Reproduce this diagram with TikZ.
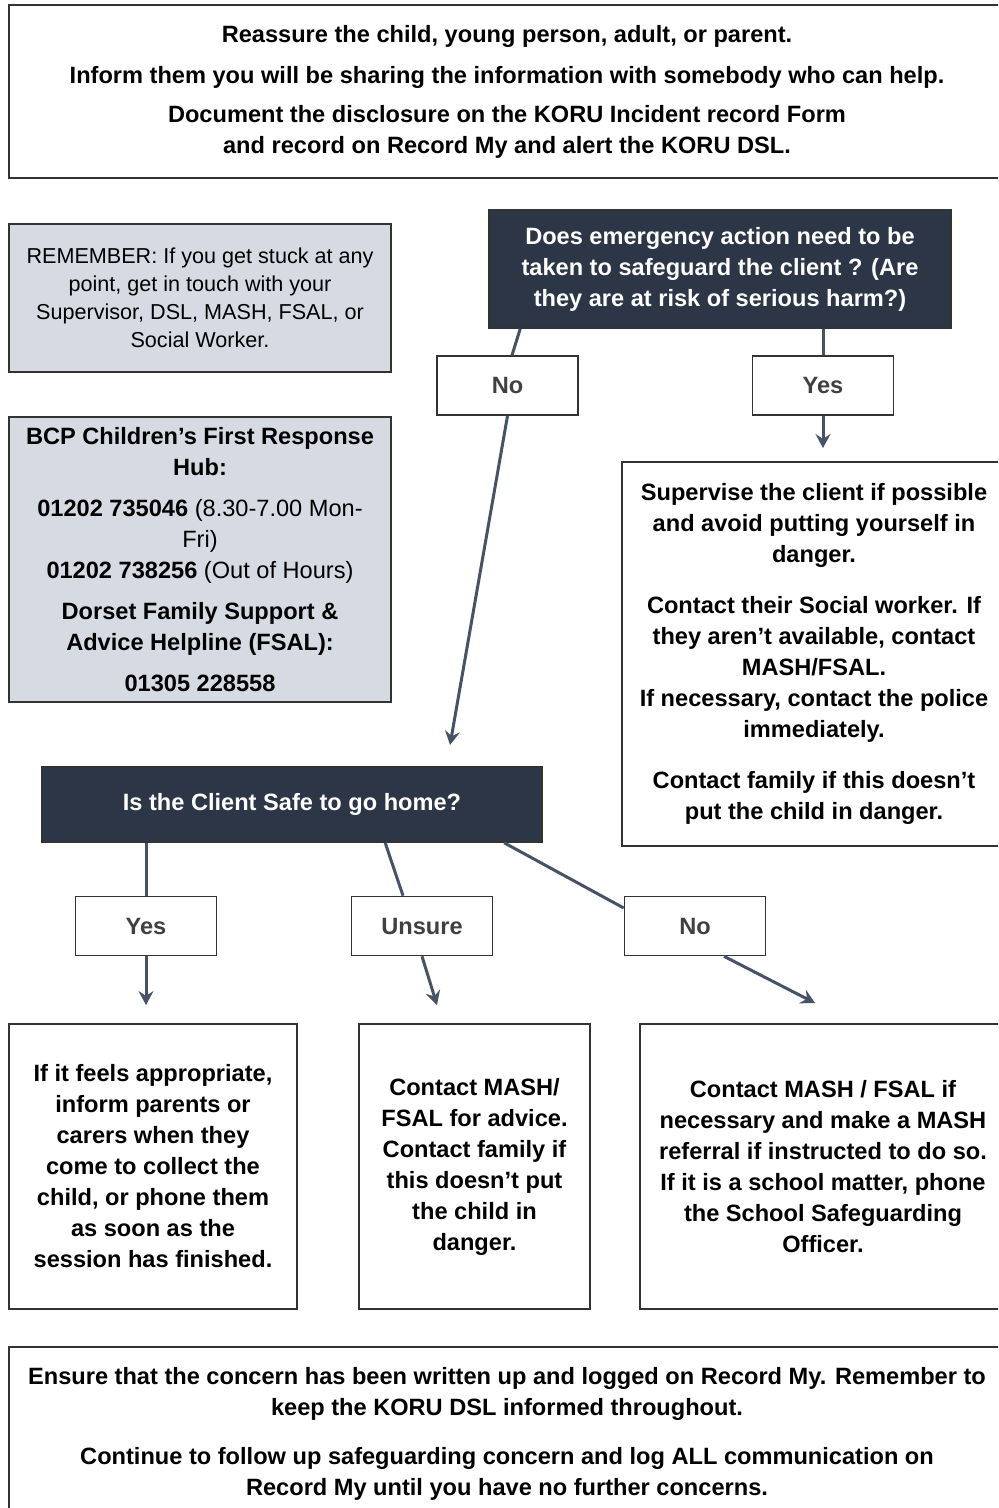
\documentclass[tikz,border=0pt]{standalone}
\usepackage{fontspec}
\setmainfont{Liberation Sans}
\usetikzlibrary{arrows.meta}
\definecolor{navy}{HTML}{2C3646}
\definecolor{slate}{HTML}{465266}
\definecolor{pale}{HTML}{D6DBE3}
\definecolor{edge}{HTML}{333333}

\begin{document}
\begin{tikzpicture}[x=0.5pt,y=-0.5pt,
  box/.style={draw=edge,line width=0.8pt,align=center,inner sep=0pt,
    font=\bfseries\fontsize{11.8}{15.5}\selectfont},
  greybox/.style={box,fill=pale},
  darkbox/.style={box,fill=navy,text=white},
  answer/.style={box,minimum width=70.5pt,minimum height=29.5pt,text=black!75},
  conn/.style={draw=slate,line width=1.5pt},
  conna/.style={conn,-{Stealth[length=7pt,width=7.5pt,inset=2.5pt]}}]
\useasboundingbox (0,0) rectangle (998,1508);
\clip (0,0) rectangle (998,1508);

% top
\node[box,minimum width=498pt,minimum height=86.5pt] (start) at (507,91.5)
  {Reassure the child, young person, adult, or parent.\\[5pt]
   Inform them you will be sharing the information with somebody who can help.\\[4pt]
   Document the disclosure on the KORU Incident record Form\\
   and record on Record My and alert the KORU DSL.};

% side notes
\node[greybox,minimum width=191pt,minimum height=74pt,
  font=\fontsize{10.8}{14}\selectfont] (remember) at (200,298)
  {REMEMBER: If you get stuck at any\\ point, get in touch with your\\
   Supervisor, DSL, MASH, FSAL, or\\ Social Worker.};
\node[greybox,minimum width=191pt,minimum height=142.5pt,
  font=\fontsize{11.8}{15.5}\selectfont] (hub) at (200,559.5)
  {\textbf{BCP Children’s First Response}\\ \textbf{Hub:}\\[5pt]
   \textbf{01202 735046} (8.30-7.00 Mon-\\ Fri)\\
   \textbf{01202 738256} (Out of Hours)\\[5pt]
   \textbf{Dorset Family Support \&}\\ \textbf{Advice Helpline (FSAL):}\\[5pt]
   \textbf{01305 228558}};

% first question
\node[darkbox,minimum width=231pt,minimum height=59pt] (q1) at (720,269)
  {Does emergency action need to be\\ taken to safeguard the client ? (Are\\
   they are at risk of serious harm?)};
\node[answer] (no1) at (507.5,385.5) {No};
\node[answer] (yes1) at (823,385.5) {Yes};
\node[box,minimum width=192pt,minimum height=192pt] (act) at (814,654)
  {Supervise the client if possible\\ and avoid putting yourself in\\ danger.\\[10pt]
   Contact their Social worker. If\\ they aren’t available, contact\\ MASH/FSAL.\\
   If necessary, contact the police\\ immediately.\\[10pt]
   Contact family if this doesn’t\\ put the child in danger.};

% second question
\node[darkbox,minimum width=250pt,minimum height=37.5pt] (q2) at (292,804.5)
  {Is the Client Safe to go home?};
\foreach \n/\x/\t in {yes2/146/Yes,unsure/422/Unsure,no2/695/No}
  \node[answer] (\n) at (\x,926) {\t};

\node[box,minimum width=144pt,minimum height=142.5pt] (out1) at (153,1166.5)
  {If it feels appropriate,\\ inform parents or\\ carers when they\\ come to collect the\\
   child, or phone them\\ as soon as the\\ session has finished.};
\node[box,minimum width=115.5pt,minimum height=142.5pt] (out2) at (474.5,1166.5)
  {Contact MASH/\\ FSAL for advice.\\ Contact family if\\ this doesn’t put\\
   the child in\\ danger.};
\node[box,minimum width=183pt,minimum height=142.5pt] (out3) at (823,1166.5)
  {Contact MASH / FSAL if\\ necessary and make a MASH\\ referral if instructed to do so.\\
   If it is a school matter, phone\\ the School Safeguarding\\ Officer.};

% closing
\node[box,minimum width=498pt,minimum height=86.5pt] (close) at (507,1433.5)
  {Ensure that the concern has been written up and logged on Record My. Remember to\\
   keep the KORU DSL informed throughout.\\[9pt]
   Continue to follow up safeguarding concern and log ALL communication on\\
   Record My until you have no further concerns.};

% arrow ends
\coordinate (t1) at (450,745);
\coordinate (t2) at (823,448);
\coordinate (t3) at (146,1005);
\coordinate (t4) at (437,1005);
\coordinate (t5) at (815,1003);

\draw[conn] ([xshift=16pt]q1.south west) -- ([xshift=2.25pt]no1.north);
\draw[conna] (no1.south) -- (t1);
\draw[conn] (yes1.north |- q1.south) -- (yes1.north);
\draw[conna] (yes1.south) -- (t2);
\draw[conn] (yes2.north |- q2.south) -- (yes2.north);
\draw[conna] (yes2.south) -- (t3);
\draw[conn] ([xshift=172pt]q2.south west) -- ([xshift=-9.5pt]unsure.north);
\draw[conna] (unsure.south) -- (t4);
\draw[conn] ([xshift=231.5pt]q2.south west) -- ([yshift=9pt]no2.west);
\draw[conna] ([xshift=14.5pt]no2.south) -- (t5);
\end{tikzpicture}
\end{document}
